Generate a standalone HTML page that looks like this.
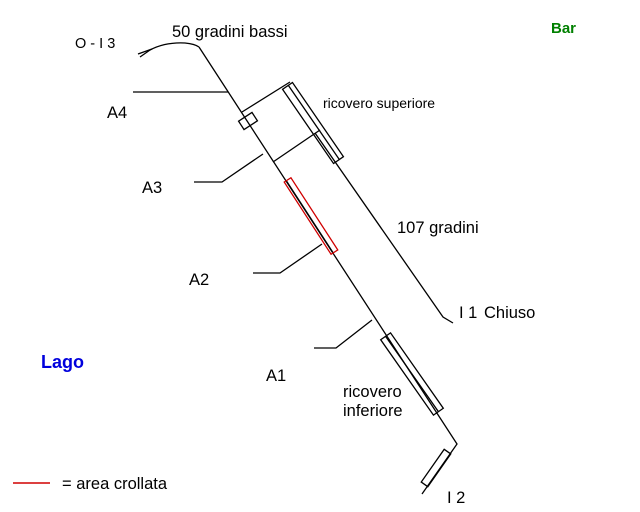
<!DOCTYPE html>
<html><head><meta charset="utf-8"><style>
html,body{margin:0;padding:0;background:#fff;}
svg{display:block;}
text{font-family:"Liberation Sans",Arial,sans-serif;font-size:16.5px;fill:#000;}
</style></head><body>
<svg width="640" height="512" viewBox="0 0 640 512" xmlns="http://www.w3.org/2000/svg">
<g stroke="#000" stroke-width="1.3" fill="none">
<path d="M140 57 L150 50 Q165 42 185 43 Q195 44 199 47"/>
<path d="M138 54 L152 49"/>
<path d="M199 47 L457 444 L422 494"/>
<path d="M133 92 L228 92"/>
<path d="M242 112 L290 82"/>
<path d="M315 133 L443 317 L453 323"/>
<path d="M194 182 L222 182 L263 154"/>
<path d="M273 162 L320 130"/>
<path d="M253 273 L280 273 L322 244"/>
<path d="M314 348 L336 348 L372 320"/>
<g transform="translate(313,123) rotate(55.5)">
<rect x="-45" y="-6" width="90" height="12"/>
<line x1="-45" y1="-1" x2="45" y2="-1"/>
</g>
<g transform="translate(248,121) rotate(-33)">
<rect x="-8" y="-5" width="16" height="10"/>
</g>
<g transform="translate(412,374) rotate(55)">
<rect x="-46" y="-6" width="92" height="12"/>
<line x1="-46" y1="0" x2="46" y2="0"/>
</g>
<g transform="translate(436,468) rotate(125)">
<rect x="-20" y="-4" width="40" height="8"/>
</g>
<g transform="translate(311,216) rotate(57)">
<line x1="-43" y1="1.5" x2="43" y2="1.5"/>
</g>
</g>
<g transform="translate(311,216) rotate(57)">
<rect x="-43" y="-4" width="86" height="8" stroke="#d00000" stroke-width="1.3" fill="none"/>
</g>
<line x1="13" y1="483" x2="50" y2="483" stroke="#d00000" stroke-width="1.5"/>
<text x="75" y="48" style="font-size:14.5px">O - I 3</text>
<text x="172" y="37">50 gradini bassi</text>
<text x="551" y="33" style="fill:#008000;font-weight:bold;font-size:15px">Bar</text>
<text x="323" y="108" style="font-size:14px">ricovero superiore</text>
<text x="107" y="118">A4</text>
<text x="142" y="193">A3</text>
<text x="397" y="233">107 gradini</text>
<text x="189" y="285">A2</text>
<text x="459" y="318">I 1</text>
<text x="484" y="318">Chiuso</text>
<text x="41" y="368" style="fill:#0000dd;font-weight:bold;font-size:18px">Lago</text>
<text x="266" y="381">A1</text>
<text x="343" y="397">ricovero</text>
<text x="343" y="416">inferiore</text>
<text x="447" y="503">I 2</text>
<text x="62" y="489">= area crollata</text>
</svg>
</body></html>
